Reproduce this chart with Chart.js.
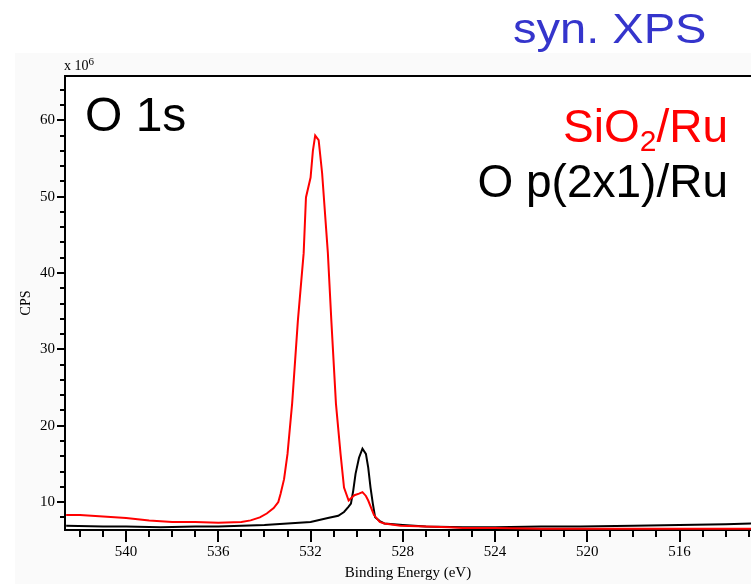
<!DOCTYPE html>
<html lang="en">
<head>
    <meta charset="UTF-8">
    <title>O 1s syn. XPS</title>
    <script src="https://cdn.jsdelivr.net/npm/chart.js"></script>
    <style>
        body {
            margin: 0;
            background: #fff;
            font-family: "Liberation Sans", Arial, sans-serif;
        }

        .wrap {
            position: relative;
            width: 751px;
            height: 584px;
            overflow: hidden;
        }

        canvas {
            position: absolute;
            left: 0;
            top: 0;
        }

        .note {
            position: absolute;
            line-height: 1;
            white-space: nowrap;
        }

        #synXps {
            left: 513px; top: 8px; font-size: 42px; color: #3535cc;
            transform: scaleX(1.12); transform-origin: left top;
        }
        #coreLevel { left: 85px; top: 91px; font-size: 48px; color: #000; }
        #sio2Label { right: 23px; top: 103px; font-size: 46px; color: #ff0000; }
        #sio2Label sub { font-size: 30px; vertical-align: -9px; line-height: 0; }
        #oLabel { right: 23px; top: 158px; font-size: 46px; color: #000; }
        #scaleLabel {
            left: 64px; top: 59px; font-size: 14px;
            font-family: "Liberation Serif", serif; color: #000;
        }
        #scaleLabel sup { font-size: 11px; vertical-align: 5px; line-height: 0; }
    </style>
</head>
<body>
    <div class="wrap">
        <canvas id="xpsChart" width="751" height="584"></canvas>
        <div class="note" id="synXps">syn. XPS</div>
        <div class="note" id="coreLevel">O 1s</div>
        <div class="note" id="sio2Label">SiO<sub>2</sub>/Ru</div>
        <div class="note" id="oLabel">O p(2x1)/Ru</div>
        <div class="note" id="scaleLabel">x 10<sup>6</sup></div>
    </div>

    <script>
        // SiO2/Ru spectrum (binding energy in eV, counts x10^6)
        const sio2Energy = [542.6, 542.0, 541.0, 540.0, 539.0, 538.0, 537.0, 536.0, 535.0, 534.6,
            534.2, 533.9, 533.6, 533.4, 533.3, 533.15, 533.0, 532.8, 532.55, 532.3,
            532.2, 532.0, 531.9, 531.8, 531.65, 531.5, 531.25, 531.1, 530.9, 530.7,
            530.55, 530.35, 530.1, 529.9, 529.75, 529.6, 529.5, 529.25, 529.0, 528.8,
            528.1, 527.0, 526.0, 525.4, 524.0, 522.0, 520.3, 518.0, 516.0, 514.0, 512.9];
        const sio2Cps = [8.3, 8.3, 8.1, 7.9, 7.6, 7.4, 7.4, 7.3, 7.4, 7.6,
            8.0, 8.5, 9.2, 10.0, 11.1, 13.0, 16.3, 22.9, 33.8, 42.6,
            49.9, 52.5, 56.0, 58.0, 57.4, 53.1, 42.6, 33.8, 22.9, 16.3,
            11.9, 10.2, 10.9, 11.1, 11.3, 10.8, 10.2, 8.3, 7.4, 7.2,
            6.9, 6.8, 6.7, 6.6, 6.6, 6.5, 6.5, 6.5, 6.5, 6.5, 6.5];

        // O p(2x1)/Ru spectrum
        const oEnergy = [542.6, 541.0, 540.0, 538.5, 537.0, 536.0, 535.0, 534.0, 533.0, 532.0,
            531.25, 530.8, 530.55, 530.35, 530.25, 530.15, 530.05, 529.9, 529.75, 529.6,
            529.5, 529.4, 529.3, 529.2, 529.0, 528.8, 528.0, 527.0, 525.4, 524.0,
            522.0, 520.3, 518.0, 516.0, 514.0, 512.9];
        const oCps = [6.9, 6.8, 6.8, 6.7, 6.8, 6.8, 6.9, 7.0, 7.2, 7.4,
            7.9, 8.2, 8.7, 9.4, 9.8, 11.5, 13.7, 15.8, 17.0, 16.3,
            14.5, 11.9, 9.8, 8.0, 7.5, 7.2, 7.0, 6.8, 6.7, 6.7,
            6.8, 6.8, 6.9, 7.0, 7.1, 7.2];

        const xTickLabels = [540, 536, 532, 528, 524, 520, 516];
        const yTickLabels = [10, 20, 30, 40, 50, 60];

        const toPoints = (xs, ys) => xs.map((x, i) => ({ x: x, y: ys[i] }));

        // background, top frame line and the long/short tick marks
        const framePlugin = {
            id: 'frame',
            beforeDraw(chart) {
                const ctx = chart.ctx;
                const a = chart.chartArea;
                ctx.save();
                ctx.fillStyle = '#fff';
                ctx.fillRect(0, 0, chart.width, chart.height);
                ctx.fillStyle = '#fafafa';
                ctx.fillRect(15, 53, chart.width - 15, chart.height - 53);
                ctx.fillStyle = '#fff';
                ctx.fillRect(a.left, a.top, a.right - a.left, a.bottom - a.top);
                ctx.restore();
            },
            afterDraw(chart) {
                const ctx = chart.ctx;
                const a = chart.chartArea;
                const xs = chart.scales.x;
                const ys = chart.scales.y;
                ctx.save();
                ctx.strokeStyle = '#000';
                ctx.lineWidth = 2;
                ctx.beginPath();
                ctx.moveTo(a.left - 1, a.top);
                ctx.lineTo(chart.width, a.top);
                ctx.stroke();

                ctx.beginPath();
                for (let v = Math.ceil(xs.min); v <= xs.max; v++) {
                    const px = Math.round(xs.getPixelForValue(v));
                    const len = v % 4 === 0 ? 12 : 7;
                    ctx.moveTo(px, a.bottom);
                    ctx.lineTo(px, a.bottom + len);
                }
                for (let v = 8; v <= ys.max; v += 2) {
                    const py = Math.round(ys.getPixelForValue(v));
                    const len = v % 10 === 0 ? 8 : 5;
                    ctx.moveTo(a.left, py);
                    ctx.lineTo(a.left - len, py);
                }
                ctx.stroke();
                ctx.restore();
            }
        };

        const serif = { family: "'Liberation Serif', 'Times New Roman', serif", size: 15 };

        new Chart(document.getElementById('xpsChart').getContext('2d'), {
            type: 'line',
            data: {
                datasets: [{
                    label: 'SiO2/Ru',
                    data: toPoints(sio2Energy, sio2Cps),
                    borderColor: '#ff0000',
                    borderWidth: 2,
                    pointRadius: 0,
                    fill: false
                }, {
                    label: 'O p(2x1)/Ru',
                    data: toPoints(oEnergy, oCps),
                    borderColor: '#000000',
                    borderWidth: 2,
                    pointRadius: 0,
                    fill: false
                }]
            },
            options: {
                responsive: false,
                animation: false,
                layout: { padding: { top: 76, left: 0, right: 0, bottom: 0 } },
                plugins: {
                    legend: { display: false },
                    tooltip: { enabled: false }
                },
                scales: {
                    x: {
                        type: 'linear',
                        reverse: true,
                        min: 512.9,
                        max: 542.65,
                        grid: { display: false, drawTicks: false },
                        border: { display: true, color: '#000', width: 2 },
                        afterBuildTicks: s => { s.ticks = xTickLabels.map(v => ({ value: v })); },
                        afterFit: s => { s.height = 54; },
                        ticks: {
                            padding: 13,
                            color: '#000',
                            font: serif,
                            maxRotation: 0,
                            callback: v => String(v)
                        },
                        title: {
                            display: true,
                            text: 'Binding Energy (eV)',
                            color: '#000',
                            font: serif,
                            padding: { top: 0, bottom: 2 }
                        }
                    },
                    y: {
                        min: 6.34,
                        max: 65.8,
                        grid: { display: false, drawTicks: false },
                        border: { display: true, color: '#000', width: 2 },
                        afterBuildTicks: s => { s.ticks = yTickLabels.map(v => ({ value: v })); },
                        afterFit: s => { s.width = 65; },
                        ticks: {
                            padding: 10,
                            color: '#000',
                            font: serif,
                            callback: v => String(v)
                        },
                        title: {
                            display: true,
                            text: 'CPS',
                            color: '#000',
                            font: { family: serif.family, size: 14 },
                            padding: { top: 18, bottom: 0 }
                        }
                    }
                }
            },
            plugins: [framePlugin]
        });
    </script>
</body>
</html>
